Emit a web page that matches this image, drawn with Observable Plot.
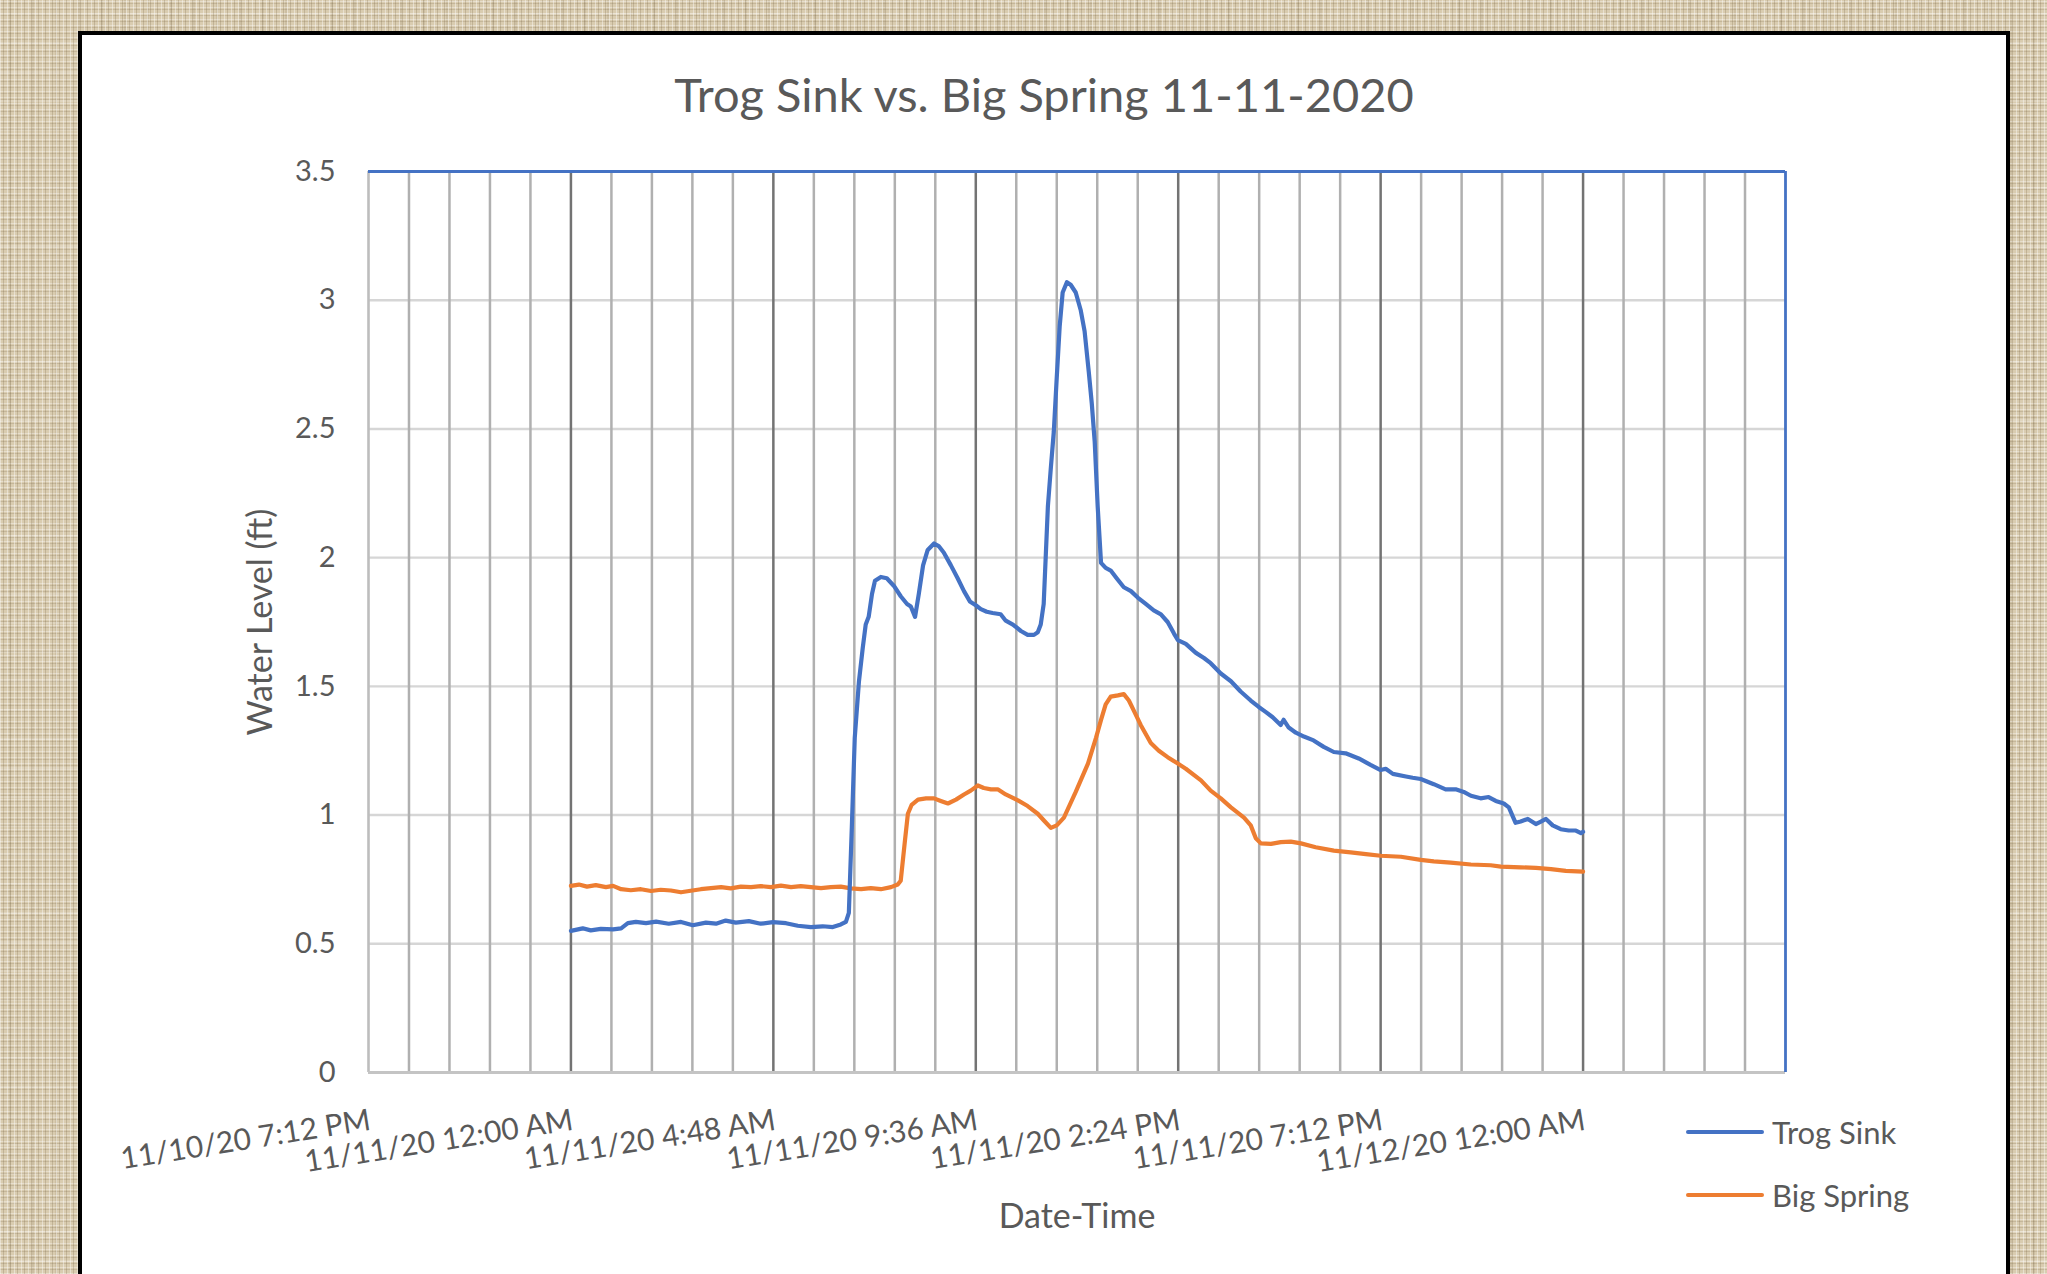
<!DOCTYPE html>
<html>
<head>
<meta charset="utf-8">
<script src="https://cdn.jsdelivr.net/npm/d3@7"></script>
<script src="https://cdn.jsdelivr.net/npm/@observablehq/plot@0.6"></script>
<style>
html, body { margin: 0; padding: 0; width: 2047px; height: 1274px; overflow: hidden; }
body {
  position: relative;
  background-color: #d9ccb0;
  background-image:
    repeating-linear-gradient(90deg, rgba(255,255,255,0.40) 0px, rgba(255,255,255,0.40) 1px, transparent 1px, transparent 3px, rgba(105,85,52,0.22) 3px, rgba(105,85,52,0.22) 4px, transparent 4px, transparent 7px),
    repeating-linear-gradient(0deg, rgba(255,255,255,0.34) 0px, rgba(255,255,255,0.34) 1px, transparent 1px, transparent 4px, rgba(105,85,52,0.18) 4px, rgba(105,85,52,0.18) 5px, transparent 5px, transparent 6px),
    repeating-linear-gradient(90deg, transparent 0px, transparent 9px, rgba(90,70,40,0.10) 9px, rgba(90,70,40,0.10) 11px, transparent 11px, transparent 23px),
    repeating-linear-gradient(0deg, transparent 0px, transparent 12px, rgba(255,255,255,0.18) 12px, rgba(255,255,255,0.18) 14px, transparent 14px, transparent 29px);
  font-family: Lato, "Open Sans", sans-serif;
}
#card { position: absolute; left: 78px; top: 31px; width: 1932px; height: 1300px; background: #fff; border: 4px solid #000; box-sizing: border-box; }
#title { position: absolute; left: 78px; width: 1932px; top: 66px; text-align: center; font-size: 47px; color: #595959; line-height: 56px; white-space: nowrap; }
#chart { position: absolute; left: 0; top: 0; }
.leg { position: absolute; left: 1686px; height: 40px; display: flex; align-items: center; font-size: 31px; color: #595959; white-space: nowrap; }
.leg .sw { width: 78px; height: 4px; border-radius: 2px; margin-right: 8px; }
</style>
</head>
<body>
<div id="card"></div>
<div id="title"></div>
<div id="chart"></div>
<div class="leg" id="leg0" style="top:1112px"><span class="sw"></span><span class="lt"></span></div>
<div class="leg" id="leg1" style="top:1175px"><span class="sw"></span><span class="lt"></span></div>
<script>
// ---- data (time = hours since 11/11/2020 12:00 AM) ----
const chartTitle = "Trog Sink vs. Big Spring 11-11-2020";
const xAxisLabel = "Date-Time";
const yAxisLabel = "Water Level (ft)";
const seriesNames = ["Trog Sink", "Big Spring"];
const seriesColors = ["#4472C4", "#ED7D31"];

const xTickHours = [-4.8, 0, 4.8, 9.6, 14.4, 19.2, 24];
const xTickLabels = ["11/10/20 7:12 PM", "11/11/20 12:00 AM", "11/11/20 4:48 AM", "11/11/20 9:36 AM", "11/11/20 2:24 PM", "11/11/20 7:12 PM", "11/12/20 12:00 AM"];
const xDomain = [-4.8, 28.8];
const xMinorStep = 0.96;
const yTicks = [0, 0.5, 1, 1.5, 2, 2.5, 3, 3.5];
const yTickLabels = ["0", "0.5", "1", "1.5", "2", "2.5", "3", "3.5"];

const trogHours = [0.00,0.28,0.47,0.71,1.00,1.19,1.35,1.54,1.78,2.02,2.32,2.61,2.89,3.20,3.44,3.67,3.91,4.22,4.50,4.79,5.10,5.38,5.69,5.97,6.21,6.40,6.52,6.59,6.66,6.73,6.83,6.92,6.99,7.06,7.14,7.21,7.35,7.49,7.66,7.82,7.97,8.06,8.16,8.25,8.35,8.46,8.61,8.72,8.84,9.01,9.17,9.32,9.46,9.60,9.72,9.86,10.00,10.19,10.31,10.48,10.67,10.83,10.98,11.07,11.14,11.21,11.31,11.38,11.45,11.52,11.59,11.66,11.76,11.85,11.97,12.09,12.18,12.28,12.35,12.42,12.49,12.57,12.68,12.80,12.94,13.11,13.28,13.44,13.63,13.82,13.99,14.15,14.30,14.39,14.58,14.82,15.01,15.17,15.41,15.65,15.88,16.12,16.31,16.48,16.64,16.83,16.90,17.02,17.19,17.38,17.61,17.85,18.09,18.37,18.68,18.96,19.20,19.32,19.49,19.80,19.96,20.15,20.46,20.74,20.98,21.17,21.34,21.57,21.76,21.93,22.12,22.24,22.40,22.52,22.69,22.88,23.00,23.12,23.28,23.47,23.66,23.83,23.95,24.00];
const trogLevel = [0.550,0.560,0.552,0.558,0.556,0.560,0.580,0.585,0.580,0.586,0.578,0.585,0.572,0.582,0.578,0.590,0.582,0.588,0.578,0.584,0.580,0.570,0.565,0.568,0.565,0.575,0.585,0.62,0.95,1.30,1.52,1.65,1.74,1.77,1.86,1.91,1.925,1.92,1.89,1.85,1.82,1.81,1.77,1.86,1.97,2.03,2.055,2.045,2.02,1.97,1.92,1.87,1.83,1.815,1.80,1.79,1.785,1.78,1.755,1.74,1.715,1.70,1.70,1.71,1.74,1.82,2.20,2.35,2.49,2.70,2.90,3.03,3.07,3.06,3.03,2.96,2.88,2.72,2.60,2.45,2.20,1.98,1.96,1.95,1.92,1.885,1.87,1.845,1.82,1.795,1.78,1.75,1.705,1.68,1.665,1.63,1.61,1.59,1.55,1.52,1.48,1.445,1.42,1.40,1.38,1.35,1.37,1.34,1.32,1.305,1.29,1.265,1.245,1.24,1.22,1.195,1.175,1.18,1.16,1.15,1.145,1.14,1.12,1.10,1.10,1.09,1.075,1.065,1.07,1.055,1.045,1.03,0.97,0.975,0.985,0.965,0.975,0.985,0.96,0.945,0.94,0.94,0.93,0.935];

const springHours = [0.00,0.19,0.38,0.59,0.83,1.00,1.19,1.42,1.66,1.90,2.13,2.37,2.61,2.84,3.08,3.32,3.56,3.79,4.03,4.27,4.50,4.74,4.98,5.22,5.45,5.69,5.93,6.16,6.40,6.64,6.88,7.11,7.35,7.59,7.75,7.82,7.92,7.99,8.08,8.23,8.42,8.61,8.77,8.94,9.13,9.32,9.48,9.65,9.79,9.96,10.12,10.31,10.60,10.83,11.07,11.21,11.38,11.52,11.69,11.97,12.26,12.45,12.57,12.68,12.80,12.97,13.11,13.23,13.35,13.51,13.75,13.94,14.15,14.39,14.58,14.94,15.17,15.41,15.65,15.96,16.12,16.24,16.36,16.60,16.83,17.07,17.31,17.66,18.09,18.49,18.85,19.20,19.68,20.15,20.46,20.86,21.34,21.81,22.05,22.52,22.88,23.24,23.59,24.00];
const springLevel = [0.725,0.730,0.722,0.728,0.720,0.725,0.712,0.708,0.712,0.705,0.710,0.707,0.700,0.706,0.712,0.716,0.720,0.715,0.722,0.720,0.724,0.720,0.726,0.720,0.724,0.720,0.716,0.720,0.722,0.715,0.712,0.716,0.712,0.720,0.730,0.745,0.90,1.005,1.04,1.06,1.065,1.065,1.055,1.045,1.06,1.08,1.095,1.115,1.105,1.10,1.10,1.08,1.057,1.035,1.005,0.98,0.95,0.96,0.99,1.09,1.20,1.30,1.37,1.43,1.46,1.465,1.47,1.445,1.405,1.35,1.28,1.25,1.225,1.20,1.18,1.135,1.095,1.065,1.03,0.99,0.96,0.91,0.89,0.888,0.895,0.897,0.89,0.875,0.862,0.855,0.848,0.842,0.838,0.826,0.82,0.815,0.808,0.805,0.80,0.797,0.795,0.79,0.783,0.78];

// ---- build ----
const W = 2047, H = 1274;
const trog = trogHours.map((h, i) => ({t: h, v: trogLevel[i]}));
const spring = springHours.map((h, i) => ({t: h, v: springLevel[i]}));
const nMinor = Math.round((xDomain[1] - xDomain[0]) / xMinorStep);
const gridAll = d3.range(nMinor + 1).map(k => +(xDomain[0] + k * xMinorStep).toFixed(4));
const majorSet = new Set(xTickHours.map(d => d.toFixed(2)));
const gridMinor = gridAll.filter(d => !majorSet.has(d.toFixed(2)) && d > xDomain[0] && d < xDomain[1]);
const gridMajor = xTickHours.filter(d => d > xDomain[0]);
const textColor = "#595959";

const svg = Plot.plot({
  width: W, height: H,
  marginLeft: 368, marginRight: W - 1785, marginTop: 171, marginBottom: H - 1072,
  x: {domain: xDomain, axis: null},
  y: {domain: [0, 3.5], axis: null},
  style: {background: "transparent", fontFamily: "Lato, 'Open Sans', sans-serif", color: textColor, overflow: "visible"},
  marks: [
    Plot.ruleY(yTicks.filter(d => d > 0 && d < 3.5), {stroke: "#d6d6d6", strokeWidth: 2.4}),
    Plot.ruleX(gridMinor, {stroke: "#b0b0b0", strokeWidth: 2.5}),
    Plot.ruleX(gridMajor, {stroke: "#737373", strokeWidth: 2.5}),
    Plot.ruleX([xDomain[0]], {stroke: "#bdbdbd", strokeWidth: 2.6}),
    Plot.ruleY([0], {stroke: "#c4c4c4", strokeWidth: 3}),
    Plot.ruleY([3.5], {stroke: "#4472C4", strokeWidth: 2.8}),
    Plot.ruleX([xDomain[1]], {stroke: "#4472C4", strokeWidth: 2.8}),
    Plot.line(spring, {x: "t", y: "v", stroke: seriesColors[1], strokeWidth: 4.2, curve: "linear"}),
    Plot.line(trog, {x: "t", y: "v", stroke: seriesColors[0], strokeWidth: 4.2, curve: "linear"}),
    Plot.axisY({ticks: yTicks, tickSize: 0, tickPadding: 33, tickFormat: (d) => yTickLabels[yTicks.indexOf(d)], fontSize: 29, color: textColor, label: null}),
    Plot.text(xTickHours, {x: d => d, text: (d, i) => xTickLabels[i], frameAnchor: "bottom", dy: 36, rotate: -9, textAnchor: "end", lineAnchor: "top", fontSize: 30, fill: textColor}),
    Plot.text([yAxisLabel], {text: d => d, frameAnchor: "left", dx: -107, rotate: -90, textAnchor: "middle", lineAnchor: "middle", fontSize: 34, fill: textColor}),
    Plot.text([xAxisLabel], {text: d => d, frameAnchor: "bottom", dy: 145, textAnchor: "middle", lineAnchor: "middle", fontSize: 34, fill: textColor})
  ]
});
svg.style.maxWidth = "none";
document.getElementById("chart").appendChild(svg);
document.getElementById("title").textContent = chartTitle;
seriesNames.forEach((name, i) => {
  const el = document.getElementById("leg" + i);
  el.querySelector(".sw").style.background = seriesColors[i];
  el.querySelector(".lt").textContent = name;
});
</script>
</body>
</html>
